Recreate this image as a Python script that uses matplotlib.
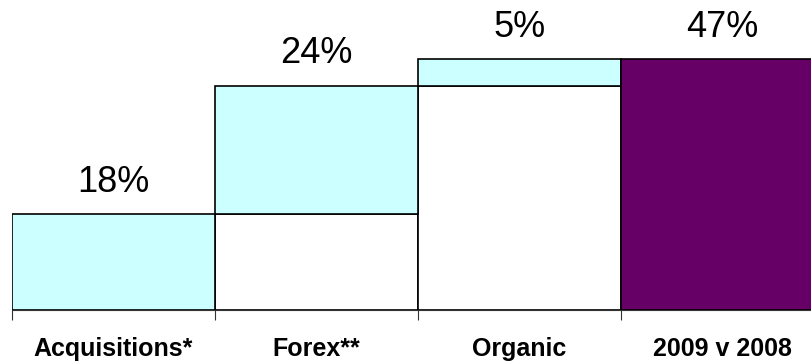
import matplotlib.pyplot as plt
import matplotlib.transforms as mtransforms

# Growth bridge 2009 v 2008 (%)
categories = ['Acquisitions*', 'Forex**', 'Organic', '2009 v 2008']
steps = [18, 24, 5]
total = 47

bases = [0, steps[0], steps[0] + steps[1], 0]
heights = steps + [total]
colors = ['#CCFFFF', '#CCFFFF', '#CCFFFF', '#660066']

fig = plt.figure(figsize=(8.11, 3.61), dpi=100)
ax = fig.add_axes([12 / 811, 51 / 361, (811 - 12) / 811, 310 / 361])

x = list(range(len(categories)))
# white spacer bars under the floating steps
ax.bar(x, bases, width=1.0, color='white', edgecolor='black', linewidth=1.2)
ax.bar(x, heights, bottom=bases, width=1.0, color=colors,
       edgecolor='black', linewidth=1.2)

for xi, b, h in zip(x, bases, heights):
    ax.annotate(f'{h}%', (xi, b + h), xytext=(0, 16), textcoords='offset points',
                ha='center', va='baseline', fontsize=26, family='Liberation Sans')

ax.set_xlim(-0.5, -0.5 + 799 / 203)
ax.set_ylim(0, 58)

for s in ['top', 'right', 'left']:
    ax.spines[s].set_visible(False)
ax.spines['bottom'].set_color('#333333')
ax.set_yticks([])
ax.set_xticks([-0.5, 0.5, 1.5, 2.5])
ax.set_xticklabels([])
ax.tick_params(axis='x', direction='out', length=7, color='#333333')

trans = mtransforms.blended_transform_factory(ax.transData, ax.transAxes)
for xi, name in zip(x, categories):
    ax.text(xi, -0.148, name, transform=trans, ha='center', va='baseline',
            fontsize=18, fontweight='bold', family='Liberation Sans')

fig.savefig('out.png', dpi=100)
